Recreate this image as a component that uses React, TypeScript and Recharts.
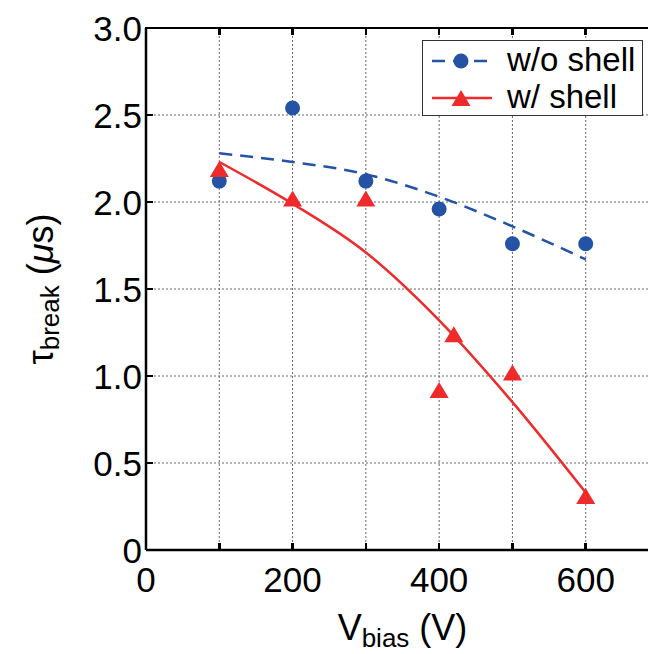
import { ComposedChart, Line, Scatter, XAxis, YAxis, CartesianGrid, Label } from 'recharts';

const vbias = [100, 200, 300, 400, 500, 600];
const noShell = [2.12, 2.54, 2.12, 1.96, 1.76, 1.76];
const withShellV = [100, 200, 300, 400, 420, 500, 600];
const withShell = [2.19, 2.02, 2.02, 0.92, 1.24, 1.02, 0.31];
const fitNoShell = [2.28, 2.23, 2.16, 2.03, 1.86, 1.67];
const fitShell = [2.23, 1.99, 1.71, 1.32, 0.85, 0.33];
const xTicks = [0, 100, 200, 300, 400, 500, 600, 700];
const yTicks = [0, 0.5, 1.0, 1.5, 2.0, 2.5, 3.0];
const seriesNames = ['w/o shell', 'w/ shell'];

const BLUE = '#2452A4';
const RED = '#EE2A2B';
const FONT = '"Liberation Sans", Arial, Helvetica, sans-serif';
const TICK = 7;
// plot box in page pixels (margins + axis sizes below)
const PLOT = { left: 146, right: 659, top: 28, bottom: 550 };

const pts = (xs: number[], ys: number[]) => xs.map((x, i) => ({ x, y: ys[i] }));
const noShellPts = pts(vbias, noShell);
const shellPts = pts(withShellV, withShell);
const fitNoShellPts = pts(vbias, fitNoShell);
const fitShellPts = pts(vbias, fitShell);

const xLabel = (v: number) => (v % 200 === 0 && v < 700 ? String(v) : '');
const yLabel = (v: number) => (v === 0 ? '0' : v.toFixed(1));

const Dot = (p: any) => <circle cx={p.cx} cy={p.cy} r={7.5} fill={BLUE} />;
const Tri = (p: any) => (
  <polygon
    points={`${p.cx},${p.cy - 8} ${p.cx - 9.5},${p.cy + 8} ${p.cx + 9.5},${p.cy + 8}`}
    fill={RED}
  />
);

const VGrid = (p: any) => (
  <g key={p.key}>
    <line x1={p.x1} y1={p.y1} x2={p.x2} y2={p.y2} stroke="#666" strokeWidth={1} strokeDasharray="2 2" />
  </g>
);
const HGrid = (p: any) => (
  <g key={p.key}>
    <line x1={p.x1} y1={p.y1} x2={p.x2} y2={p.y2} stroke="#666" strokeWidth={1} strokeDasharray="2 2" />
  </g>
);

const BottomTick = (p: any) => (
  <text x={p.x} y={p.y + 34} textAnchor="middle" fontFamily={FONT} fontSize={35} fill="#000">
    {xLabel(p.payload.value)}
  </text>
);
const LeftTick = (p: any) => (
  <text x={p.x + 4} y={p.y + 12.5} textAnchor="end" fontFamily={FONT} fontSize={35} fill="#000">
    {yLabel(p.payload.value)}
  </text>
);

const YTitle = (props: any) => {
  const { x, y, height } = props.viewBox;
  const cx = x + 53;
  const cy = y + height / 2;
  return (
    <text
      x={cx}
      y={cy}
      transform={`rotate(-90 ${cx} ${cy})`}
      textAnchor="middle"
      fontFamily={FONT}
      fontSize={36}
      fill="#000"
    >
      <tspan>τ</tspan>
      <tspan fontSize={26} dy={6}>break</tspan>
      <tspan dy={-6}> (</tspan>
      <tspan fontStyle="italic">μ</tspan>
      <tspan>s)</tspan>
    </text>
  );
};

const XTitle = (props: any) => {
  const { x, y, width } = props.viewBox;
  return (
    <text x={x + width / 2} y={y + 90} textAnchor="middle" fontFamily={FONT} fontSize={36} fill="#000">
      <tspan>V</tspan>
      <tspan fontSize={26} dy={7}>bias</tspan>
      <tspan dy={-7}> (V)</tspan>
    </text>
  );
};

// frame top edge + inward ticks on all four sides
function Frame() {
  const w = PLOT.right - PLOT.left;
  const h = PLOT.bottom - PLOT.top;
  const bar = (key: string, left: number, top: number, width: number, height: number) => (
    <div key={key} style={{ position: 'absolute', left, top, width, height, background: '#000' }} />
  );
  const out: any[] = [bar('top', PLOT.left - 1.25, PLOT.top - 1.25, w + 2.5, 2.5)];
  xTicks.forEach((t) => {
    const x = PLOT.left + (t / 700) * w - 1.25;
    out.push(bar(`b${t}`, x, PLOT.bottom - TICK, 2.5, TICK));
    out.push(bar(`t${t}`, x, PLOT.top, 2.5, TICK));
  });
  yTicks.forEach((t) => {
    const y = PLOT.bottom - (t / 3) * h - 1.25;
    out.push(bar(`l${t}`, PLOT.left, y, TICK, 2.5));
    out.push(bar(`r${t}`, PLOT.right - TICK, y, TICK, 2.5));
  });
  return <>{out}</>;
}

function LegendBox() {
  return (
    <div
      style={{
        position: 'absolute',
        left: 422,
        top: 40,
        width: 221,
        height: 76,
        border: '1px solid #333',
        background: '#fff',
        fontFamily: FONT,
        fontSize: 33,
        boxSizing: 'border-box',
      }}
    >
      {seriesNames.map((name, i) => (
        <div key={name} style={{ position: 'absolute', left: 0, top: i === 0 ? 1 : 38, height: 36, display: 'flex', alignItems: 'center' }}>
          <svg width={84} height={36} style={{ display: 'block' }}>
            {i === 0 ? (
              <g>
                <line x1={9} y1={19} x2={69} y2={19} stroke={BLUE} strokeWidth={2.5} strokeDasharray="13 8" />
                <circle cx={38} cy={19} r={7.5} fill={BLUE} />
              </g>
            ) : (
              <g>
                <line x1={9} y1={19} x2={69} y2={19} stroke={RED} strokeWidth={2.5} />
                <polygon points="38,11 28.5,27 47.5,27" fill={RED} />
              </g>
            )}
          </svg>
          <span style={{ lineHeight: '36px' }}>{name}</span>
        </div>
      ))}
    </div>
  );
}

export default function App() {
  return (
    <div style={{ position: 'relative', marginLeft: -8, marginTop: -8, width: 656, height: 654, overflow: 'hidden' }}>
      <ComposedChart width={680} height={654} margin={{ top: 28, right: 21, left: 0, bottom: 0 }}>
        <CartesianGrid vertical={VGrid} horizontal={HGrid} />
        <XAxis
          dataKey="x"
          type="number"
          domain={[0, 700]}
          ticks={xTicks}
          height={104}
          tick={BottomTick}
          tickLine={false}
          axisLine={{ stroke: '#000', strokeWidth: 2.5 }}
        >
          <Label content={XTitle} />
        </XAxis>
        <YAxis
          type="number"
          domain={[0, 3]}
          ticks={yTicks}
          width={146}
          tick={LeftTick}
          tickLine={false}
          axisLine={{ stroke: '#000', strokeWidth: 2.5 }}
        >
          <Label content={YTitle} />
        </YAxis>
        <Line
          data={fitNoShellPts}
          dataKey="y"
          type="monotone"
          stroke={BLUE}
          strokeWidth={2.5}
          strokeDasharray="13 8"
          dot={false}
          activeDot={false}
          isAnimationActive={false}
        />
        <Line
          data={fitShellPts}
          dataKey="y"
          type="monotone"
          stroke={RED}
          strokeWidth={2.5}
          dot={false}
          activeDot={false}
          isAnimationActive={false}
        />
        <Scatter data={noShellPts} dataKey="y" shape={Dot} isAnimationActive={false} />
        <Scatter data={shellPts} dataKey="y" shape={Tri} isAnimationActive={false} />
      </ComposedChart>
      <Frame />
      <LegendBox />
    </div>
  );
}
